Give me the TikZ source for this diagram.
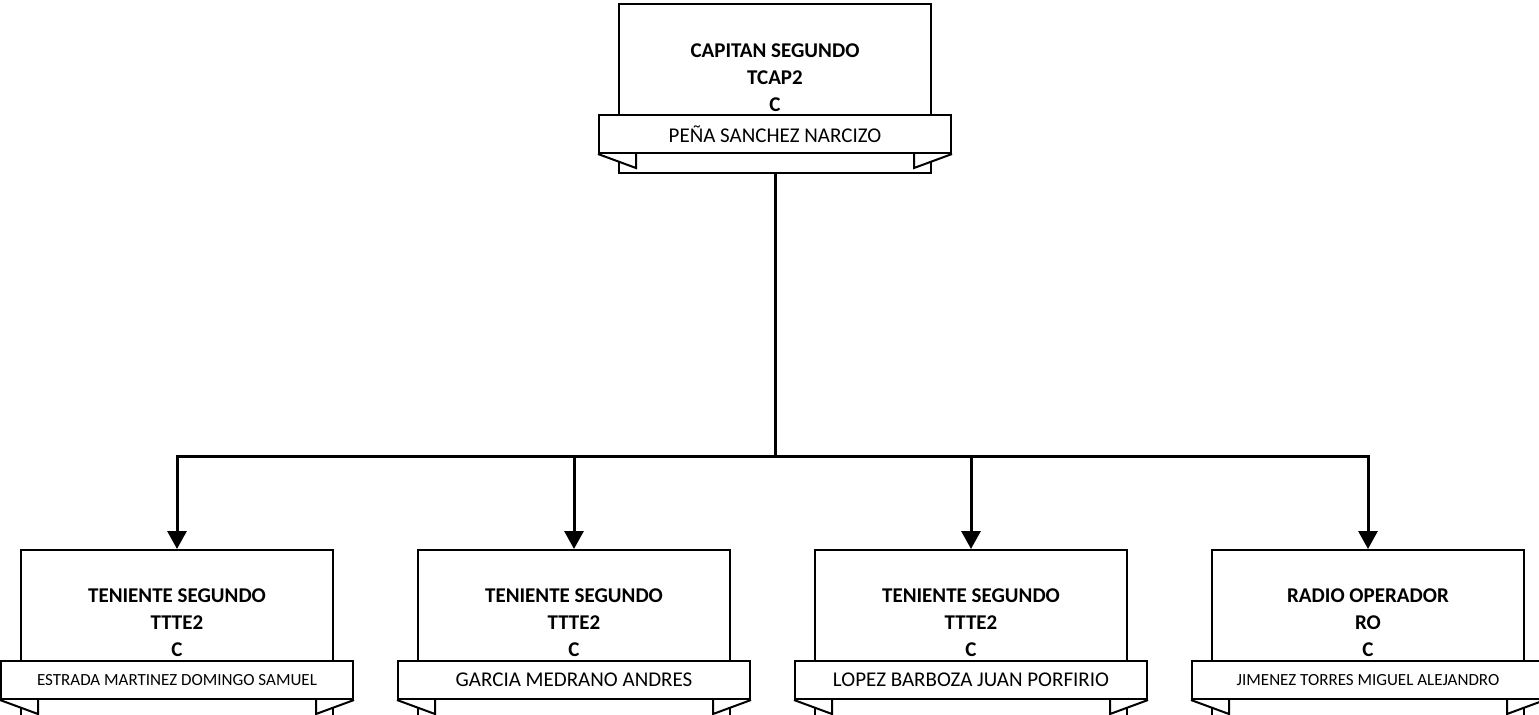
\documentclass[tikz,border=0pt]{standalone}
\usepackage{fontspec}
\setmainfont{Carlito}
\usetikzlibrary{positioning,arrows.meta}

\begin{document}
\begin{tikzpicture}[
    puesto/.style={draw, line width=1pt, minimum width=156pt, minimum height=84.5pt, inner sep=0pt},
    cargo/.style={align=center, font=\fontsize{10.5}{13.5}\selectfont\bfseries},
    banda/.style={draw, fill=white, line width=1pt, minimum width=176pt, minimum height=19pt, inner sep=0pt, font=\fontsize{10.5}{12}\selectfont},
    chica/.style={font=\fontsize{8.5}{10}\selectfont},
    flecha/.style={line width=1.5pt, -{Triangle[length=9pt,width=9.5pt]}},
  ]
  \useasboundingbox (0,0) rectangle (769.5pt,-357pt);

  % cajas
  \node[puesto, anchor=north] (capitan) at (387.5pt,-1.5pt) {};
  \node[puesto, below=187.5pt of capitan, xshift=-100.5pt] (tte2) {};
  \node[puesto, left=41.5pt of tte2] (tte1) {};
  \node[puesto, right=41.5pt of tte2] (tte3) {};
  \node[puesto, right=41.5pt of tte3] (radio) {};

  % grados
  \node[cargo] (capitan-c) at ([yshift=-37.5pt]capitan.north) {CAPITAN SEGUNDO\\TCAP2\\C};
  \node[cargo] (tte1-c) at ([yshift=-37pt]tte1.north) {TENIENTE SEGUNDO\\TTTE2\\C};
  \node[cargo] (tte2-c) at ([yshift=-37pt]tte2.north) {TENIENTE SEGUNDO\\TTTE2\\C};
  \node[cargo] (tte3-c) at ([yshift=-37pt]tte3.north) {TENIENTE SEGUNDO\\TTTE2\\C};
  \node[cargo] (radio-c) at ([yshift=-37pt]radio.north) {RADIO OPERADOR\\RO\\C};

  % listones
  \node[banda] (capitan-b) at ([yshift=-65.5pt]capitan.north) {PEÑA SANCHEZ NARCIZO};
  \node[banda, chica] (tte1-b) at ([yshift=-65.5pt]tte1.north) {ESTRADA MARTINEZ DOMINGO SAMUEL};
  \node[banda] (tte2-b) at ([yshift=-65.5pt]tte2.north) {GARCIA MEDRANO ANDRES};
  \node[banda] (tte3-b) at ([yshift=-65.5pt]tte3.north) {LOPEZ BARBOZA JUAN PORFIRIO};
  \node[banda, chica] (radio-b) at ([yshift=-65.5pt]radio.north) {JIMENEZ TORRES MIGUEL ALEJANDRO};

  \foreach \n in {capitan,tte1,tte2,tte3,radio} {
    \filldraw[fill=white, line width=1pt] (\n-b.south west) -- ++(19pt,-7pt) -- ++(0,7pt);
    \filldraw[fill=white, line width=1pt] (\n-b.south east) -- ++(-19pt,-7pt) -- ++(0,7pt);
  }

  % lineas de mando
  \coordinate (nudo) at ([yshift=-141pt]capitan.south);
  \foreach \n in {tte1,tte2,tte3,radio}
    \draw[flecha] (capitan.south) -- (nudo) -| (\n.north);
\end{tikzpicture}
\end{document}
